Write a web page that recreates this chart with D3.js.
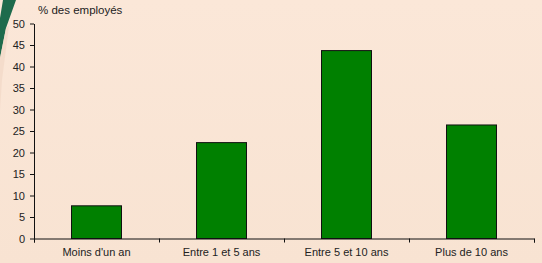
<!DOCTYPE html>
<html>
<head>
<meta charset="utf-8">
<script src="https://cdn.jsdelivr.net/npm/d3@7"></script>
<style>
  body { margin: 0; background: #fae6d6; }
  svg { display: block; font-family: "Liberation Sans", Arial, sans-serif; }
  .axis path, .axis line { stroke: #111; }
  .axis text { fill: #222; font-size: 11px; }
</style>
</head>
<body>
<svg width="542" height="263"></svg>
<script>
var categories = ["Moins d'un an", "Entre 1 et 5 ans", "Entre 5 et 10 ans", "Plus de 10 ans"];
var values = [7.6, 22.3, 43.7, 26.4];
var yTicks = [0, 5, 10, 15, 20, 25, 30, 35, 40, 45, 50];
var yTitle = "% des employés";

var svg = d3.select("svg"),
    margin = {top: 23.5, right: 8, bottom: 24.5, left: 34},
    width = +svg.attr("width") - margin.left - margin.right,
    height = +svg.attr("height") - margin.top - margin.bottom;

// background decoration
var defs = svg.append("defs");
var grad = defs.append("linearGradient").attr("id", "bg").attr("x1", 0).attr("y1", 0).attr("x2", 0).attr("y2", 1);
grad.append("stop").attr("offset", "0%").attr("stop-color", "#fbe7d8");
grad.append("stop").attr("offset", "100%").attr("stop-color", "#f8e3d2");
svg.append("rect").attr("width", 542).attr("height", 263).attr("fill", "url(#bg)");
svg.append("path").attr("d", "M3,0 L16,0 L6,28 L0,58 L0,18 Z").attr("fill", "#1e6b4c");
svg.append("path").attr("d", "M0,58 L6,28 L9,26 L2,80 L0,110 Z").attr("fill", "#f2dac8").attr("opacity", 0.8);

var x = d3.scaleBand().domain(categories).range([0, width]).paddingInner(0.6).paddingOuter(0.3),
    y = d3.scaleLinear().domain([0, 50]).range([height, 0]);
var edges = d3.scaleLinear().domain([0, categories.length]).range([0, width]);

var g = svg.append("g")
    .attr("transform", "translate(" + margin.left + "," + margin.top + ")");

g.selectAll(".bar")
  .data(values)
  .enter().append("rect")
    .attr("class", "bar")
    .attr("x", function(d, i) { return x(categories[i]); })
    .attr("y", function(d) { return y(d); })
    .attr("width", x.bandwidth())
    .attr("height", function(d) { return height - y(d); })
    .attr("fill", "#008000")
    .attr("stroke", "#111")
    .attr("stroke-width", 1);

// x axis: ticks at category edges, labels centred in bands
g.append("g")
    .attr("class", "axis axis--x")
    .attr("transform", "translate(0," + height + ")")
    .call(d3.axisBottom(edges).tickValues(d3.range(categories.length + 1)).tickSize(4).tickSizeOuter(4).tickFormat(""));

g.append("g")
    .attr("class", "axis axis--xlabels")
    .attr("transform", "translate(0," + height + ")")
    .call(d3.axisBottom(x).tickSize(0).tickPadding(10))
    .call(function(s) { s.select(".domain").remove(); });

g.append("g")
    .attr("class", "axis axis--y")
    .call(d3.axisLeft(y).tickValues(yTicks).tickSize(4).tickSizeOuter(0).tickPadding(5));

g.append("text")
    .attr("x", 4)
    .attr("y", -10)
    .attr("fill", "#222")
    .attr("font-size", "11.5px")
    .text(yTitle);
</script>
</body>
</html>
